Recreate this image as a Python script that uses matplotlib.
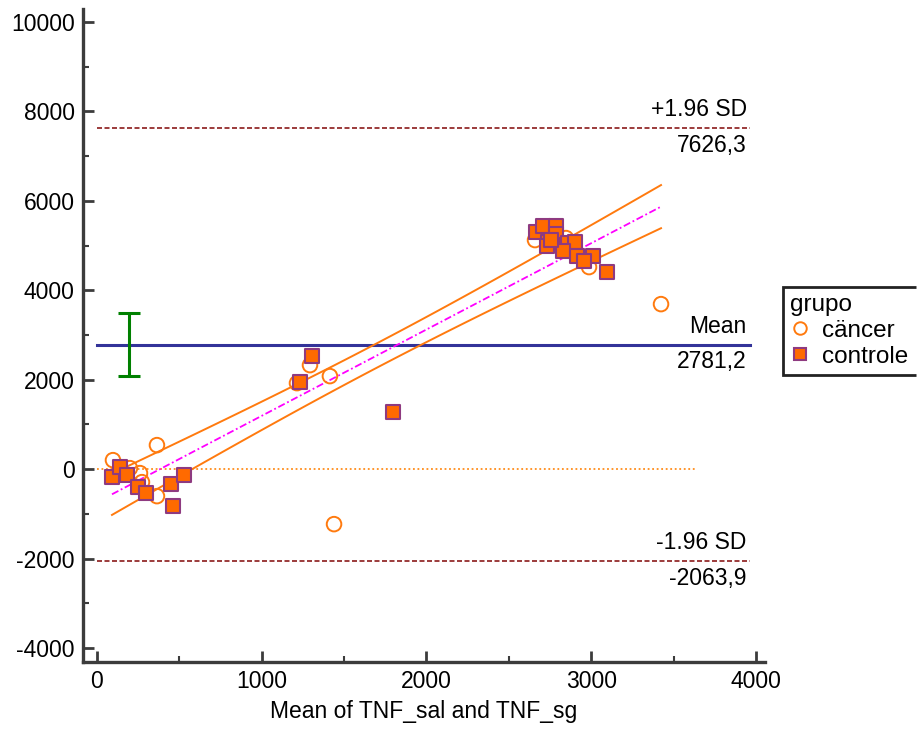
import numpy as np
import matplotlib
matplotlib.use('Agg')
import matplotlib.pyplot as plt
from matplotlib.lines import Line2D

plt.rcParams['font.family'] = ['Liberation Sans', 'DejaVu Sans']
plt.rcParams['axes.unicode_minus'] = False

##### Data #####
# cancer group: mean of the two methods / difference
cancer_mean = [97, 364, 200, 261, 273, 364,
               1293, 1214, 1414, 1439,
               2659, 2847, 2987, 3424]
cancer_diff = [201, 537, 22, -89, -291, -604,
               2326, 1923, 2080, -1230,
               5122, 5167, 4518, 3690]

# controle group
ctrl_mean = [91, 139, 182, 249, 297, 449, 528, 461,
             1305, 1233, 1797,
             2665, 2707, 2786, 2786, 2738, 2768, 2859, 2901, 2829, 2913, 3010, 2956, 3095,
             2730, 2755]
ctrl_diff = [-179, 45, -134, -403, -537, -335, -134, -828,
             2527, 1946, 1275,
             5301, 5435, 5435, 5256, 5077, 5010, 5055, 5077, 4876, 4764, 4764, 4652, 4406,
             4990, 5120]

mean_diff = 2781.2
upper_loa = 7626.3
lower_loa = -2063.9
mean_ci = [2081, 3481]      # green error bar
ci_x = 194
line_span = [0, 3965]
zero_span = [0, 3640]
t_crit = 2.02
########################

x_all = np.array(cancer_mean + ctrl_mean, dtype=float)
y_all = np.array(cancer_diff + ctrl_diff, dtype=float)

fig = plt.figure(figsize=(9.18, 7.29), dpi=100)
ax = fig.add_axes([0.0904, 0.0919, 0.8333 - 0.0904, 0.9877 - 0.0919])

##### regression of difference on mean, with 95% CI bands #####
b, a = np.polyfit(x_all, y_all, 1)
n = len(x_all)
res = y_all - (a + b * x_all)
s = np.sqrt(np.sum(res ** 2) / (n - 2))
xx = np.linspace(x_all.min(), x_all.max(), 60)
yy = a + b * xx
se = s * np.sqrt(1.0 / n + (xx - x_all.mean()) ** 2 / np.sum((x_all - x_all.mean()) ** 2))
ax.plot(xx, yy + t_crit * se, color='#ff7a0e', lw=1.4, zorder=2)
ax.plot(xx, yy - t_crit * se, color='#ff7a0e', lw=1.4, zorder=2)
ax.plot(xx, yy, color='#ff00ff', lw=1.3, ls=(0, (4, 1.5, 1, 1.5)), zorder=2)

##### reference lines #####
ax.plot(zero_span, [0, 0], color='#ff8c1a', lw=1.3, ls=(0, (1, 1.5)), zorder=1)
ax.plot(line_span, [mean_diff, mean_diff], color='#333399', lw=2.2, zorder=1)
ax.plot(line_span, [upper_loa, upper_loa], color='#8b1a1a', lw=1.2, ls=(0, (3, 1.5)), zorder=1)
ax.plot(line_span, [lower_loa, lower_loa], color='#8b1a1a', lw=1.2, ls=(0, (3, 1.5)), zorder=1)

ax.errorbar([ci_x], [mean_diff], yerr=[[mean_diff - mean_ci[0]], [mean_ci[1] - mean_diff]],
            fmt='none', ecolor='#008000', elinewidth=2.2, capsize=8, capthick=2.2, zorder=3)

##### points #####
ax.scatter(cancer_mean, cancer_diff, s=110, facecolors='none', edgecolors='#ff7a0e',
           linewidths=1.4, zorder=4)
ax.scatter(ctrl_mean, ctrl_diff, s=100, marker='s', facecolors='#ff6a00', edgecolors='#8e3a80',
           linewidths=1.5, zorder=5)

##### labels on the lines #####
tx = 3945
fs = 16.5
for val, top, bottom in [(upper_loa, '+1.96 SD', '7626,3'),
                         (mean_diff, 'Mean', '2781,2'),
                         (lower_loa, '-1.96 SD', '-2063,9')]:
    ax.annotate(top, (tx, val), xytext=(0, 5), textcoords='offset points',
                ha='right', va='bottom', fontsize=fs)
    ax.annotate(bottom, (tx, val), xytext=(0, -4), textcoords='offset points',
                ha='right', va='top', fontsize=fs)

##### axes styling #####
ax.set_xlim(-85, 4055)
ax.set_ylim(-4313, 10290)
ax.set_xticks(np.arange(0, 4001, 1000))
ax.set_xticks(np.arange(500, 4000, 1000), minor=True)
ax.set_yticks(np.arange(-4000, 10001, 2000))
ax.set_yticks(np.arange(-3000, 10000, 2000), minor=True)
for sp in ['top', 'right']:
    ax.spines[sp].set_visible(False)
for sp in ['left', 'bottom']:
    ax.spines[sp].set_linewidth(2.4)
    ax.spines[sp].set_color('#3c3c3c')
ax.tick_params(which='major', direction='in', length=8, width=2, color='#3c3c3c', labelsize=16.5, pad=6)
ax.tick_params(which='minor', direction='in', length=4.5, width=1.5, color='#3c3c3c')
ax.set_xlabel('Mean of TNF_sal and TNF_sg', fontsize=16.5, labelpad=5)

##### legend (box runs off the right edge like the original) #####
handles = [Line2D([], [], ls='none', marker='o', ms=9, mfc='none', mec='#ff7a0e', mew=1.4),
           Line2D([], [], ls='none', marker='s', ms=9, mfc='#ff6a00', mec='#8e3a80', mew=1.5)]
leg = fig.legend(handles, ['cäncer', 'controle'], title='grupo', loc='upper left',
                 bbox_to_anchor=(0.853, 0.6063), fontsize=17.5, title_fontsize=17.5,
                 frameon=False, borderpad=0.3, handletextpad=0.5,
                 handlelength=0.8, labelspacing=0.15, alignment='left', borderaxespad=0)
box_l, box_t, box_b = 0.853, 0.6063, 0.4856
fig.add_artist(Line2D([0.998, box_l, box_l, 0.998], [box_t, box_t, box_b, box_b],
                      transform=fig.transFigure, color='#222222', lw=2,
                      solid_capstyle='butt', solid_joinstyle='miter', clip_on=False))

plt.savefig('out.png', dpi=100)
